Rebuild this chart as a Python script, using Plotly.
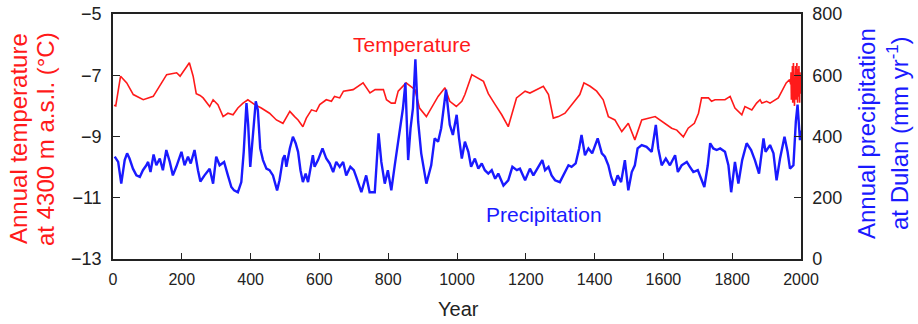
import plotly.graph_objects as go

# ---------------- data ----------------
temp_years = [3, 8, 22, 40, 59, 88, 117, 142, 156, 185, 195, 222, 233, 242, 253, 262, 281, 291, 305, 320,
              334, 349, 363, 378, 392, 412, 431, 455, 475, 494, 514, 528, 538, 552, 562, 577, 591, 601, 620, 635,
              644, 659, 670, 698, 727, 747, 762, 786, 795, 809, 820, 829, 852, 878, 891, 911, 930, 945, 965, 979,
              998, 1014, 1023, 1043, 1077, 1091, 1111, 1130, 1149, 1164, 1173, 1198, 1212, 1251, 1266, 1280, 1295, 1314, 1329, 1343,
              1357, 1369, 1387, 1406, 1425, 1440, 1459, 1479, 1498, 1517, 1537, 1576, 1595, 1624, 1639, 1658, 1672, 1690, 1702, 1711,
              1731, 1740, 1750, 1779, 1794, 1808, 1828, 1837, 1857, 1871, 1881, 1886, 1900, 1910, 1934, 1957, 1967,
              1970, 1971, 1972, 1973, 1974, 1975, 1976, 1977, 1978, 1979, 1980, 1981, 1982, 1983, 1984, 1985,
              1986, 1987, 1988, 1989, 1990, 1991, 1992, 1993, 1994, 1995, 1996, 1997, 1998, 1999, 2000]
temp_vals = [-7.98, -8.0, -7.03, -7.25, -7.63, -7.8, -7.69, -7.25, -6.98, -6.92, -7.03, -6.59, -7.03, -7.6, -7.66, -7.74, -8.02, -7.8, -7.96, -8.35,
             -8.24, -8.29, -8.07, -7.91, -7.8, -7.96, -8.07, -8.24, -8.46, -8.57, -8.18, -8.35, -8.46, -8.68, -8.4, -8.13, -8.18, -7.96, -7.8, -7.85,
             -7.69, -7.74, -7.52, -7.47, -7.25, -7.58, -7.47, -7.47, -7.8, -7.91, -7.91, -7.52, -7.25, -7.47, -8.07, -8.35, -7.96, -7.69, -7.41, -7.85,
             -8.02, -7.85, -7.63, -6.98, -7.2, -7.6, -7.96, -8.29, -8.68, -8.07, -7.74, -7.52, -7.58, -7.36, -7.63, -8.4, -8.35, -8.24, -8.02, -7.8,
             -7.63, -7.25, -7.36, -7.52, -7.8, -8.35, -8.46, -8.84, -8.57, -9.11, -8.46, -8.35, -8.51, -8.73, -8.79, -9.01, -8.73, -8.57, -8.24, -7.74,
             -7.74, -7.85, -7.8, -7.8, -7.69, -8.07, -8.29, -8.02, -8.13, -7.91, -7.8, -7.91, -7.85, -7.91, -7.74, -7.25, -7.14,
             -7.3, -6.9, -7.8, -7.0, -7.6, -6.7, -7.9, -7.2, -6.6, -7.7, -7.1, -8.0, -6.9, -7.5, -6.7, -7.8,
             -7.0, -7.6, -6.6, -7.4, -7.9, -6.8, -7.3, -7.7, -6.7, -7.2, -7.9, -6.9, -7.5, -7.0, -7.6]

prec_years = [5, 15, 24, 34, 41, 48, 58, 68, 78, 87, 97, 102, 109, 118, 126, 136, 145, 155, 165, 174,
              184, 199, 208, 218, 226, 237, 247, 254, 266, 281, 291, 300, 310, 323, 334, 344, 352, 363, 373, 380,
              388, 393, 399, 405, 415, 421, 428, 436, 446, 455, 465, 477, 484, 494, 499, 504, 514, 523, 531, 538,
              545, 552, 560, 567, 577, 581, 586, 596, 609, 620, 630, 640, 649, 659, 669, 678, 690, 700, 707, 722,
              736, 746, 761, 772, 780, 790, 799, 809, 819, 829, 835, 843, 850, 858, 865, 872, 879, 887, 896, 911,
              925, 935, 945, 954, 968, 979, 988, 999, 1006, 1014, 1023, 1033, 1041, 1052, 1062, 1072, 1081, 1091, 1101, 1111,
              1120, 1135, 1149, 1161, 1174, 1183, 1198, 1212, 1222, 1237, 1248, 1256, 1266, 1275, 1285, 1299, 1314, 1324, 1333, 1345,
              1355, 1362, 1372, 1382, 1393, 1409, 1421, 1430, 1440, 1448, 1457, 1467, 1477, 1488, 1498, 1508, 1517, 1525, 1537, 1551,
              1566, 1578, 1585, 1595, 1607, 1619, 1634, 1642, 1653, 1668, 1677, 1687, 1700, 1709, 1719, 1729, 1736, 1745, 1755, 1765,
              1779, 1789, 1797, 1808, 1818, 1829, 1842, 1855, 1866, 1878, 1891, 1897, 1910, 1920, 1929, 1939, 1952, 1961, 1968, 1978,
              1985, 1990, 1997, 2000]
prec_vals = [334, 317, 246, 323, 345, 328, 295, 273, 268, 290, 306, 317, 284, 341, 306, 328, 290, 356, 317, 273,
             301, 350, 306, 334, 312, 356, 290, 253, 273, 295, 246, 334, 306, 317, 273, 235, 224, 218, 251, 350,
             509, 438, 301, 383, 515, 487, 361, 323, 295, 290, 273, 224, 257, 328, 339, 301, 361, 399, 378, 350,
             290, 251, 279, 251, 317, 339, 301, 323, 361, 328, 312, 284, 317, 301, 317, 273, 301, 290, 268, 218,
             273, 218, 218, 410, 317, 246, 290, 224, 306, 383, 438, 493, 575, 323, 427, 493, 652, 449, 345, 246,
             306, 394, 383, 427, 553, 438, 405, 471, 394, 328, 383, 350, 301, 328, 295, 312, 290, 279, 290, 262,
             279, 240, 257, 301, 290, 295, 257, 295, 273, 301, 323, 290, 301, 273, 257, 251, 284, 306, 301, 312,
             361, 405, 339, 361, 345, 394, 345, 334, 306, 268, 240, 273, 251, 323, 224, 284, 306, 361, 372, 366,
             350, 438, 361, 306, 328, 306, 339, 284, 306, 317, 301, 284, 290, 262, 235, 306, 378, 361, 356, 361,
             350, 306, 218, 317, 246, 323, 378, 356, 323, 279, 394, 350, 372, 345, 257, 328, 399, 350, 295, 306,
             449, 504, 388, 420]

x_ticks = [0, 200, 400, 600, 800, 1000, 1200, 1400, 1600, 1800, 2000]
t_ticks = [-13, -11, -9, -7, -5]
p_ticks = [0, 200, 400, 600, 800]

RED = "#ff1a1a"
BLUE = "#1a1aff"
DARK = "#222"
FONT = "Liberation Sans, Arial, sans-serif"

fig = go.Figure()
fig.add_trace(go.Scatter(x=prec_years, y=prec_vals, mode="lines", yaxis="y2",
                         line=dict(color=BLUE, width=2.4), showlegend=False))
fig.add_trace(go.Scatter(x=temp_years, y=temp_vals, mode="lines", yaxis="y",
                         line=dict(color=RED, width=1.6), showlegend=False))

fig.update_layout(
    width=918, height=324,
    margin=dict(l=113, r=117, t=14, b=65, autoexpand=False),
    paper_bgcolor="white", plot_bgcolor="white",
    xaxis=dict(range=[0, 2000], tickvals=x_ticks, ticks="inside", ticklen=6, tickwidth=1.3,
               tickcolor=DARK, showline=True, linecolor=DARK, linewidth=1.5, mirror=True,
               showgrid=False, zeroline=False, ticklabelstandoff=5, automargin=False,
               tickfont=dict(family=FONT, size=16, color=DARK)),
    yaxis=dict(range=[-13, -5], tickvals=t_ticks, ticks="inside", ticklen=7, tickwidth=1.3,
               tickcolor=DARK, showline=True, linecolor=DARK, linewidth=1.5,
               showgrid=False, zeroline=False, ticklabelstandoff=6, automargin=False,
               tickfont=dict(family=FONT, size=18, color=DARK)),
    yaxis2=dict(range=[0, 800], tickvals=p_ticks, ticks="inside", ticklen=7, tickwidth=1.3,
                tickcolor=DARK, showline=True, linecolor=DARK, linewidth=1.5,
                overlaying="y", side="right", showgrid=False, zeroline=False, ticklabelstandoff=6,
                automargin=False, tickfont=dict(family=FONT, size=18, color=DARK)),
)

# annotation placement in pixels, converted to paper coordinates
W, H = 918, 324
l, r, t, b = 113, 117, 14, 65
pw, ph = W - l - r, H - t - b

def pp(px, py):
    return (px - l) / pw, 1 - (py - t) / ph

ann_specs = [
    ("Annual temperature", 18, 139, -90, 24, RED),
    ("at 4300 m a.s.l. (°C)", 45, 139, -90, 24, RED),
    ("Annual precipitation", 866, 134, -90, 24, BLUE),
    ("at Dulan (mm yr<sup>-1</sup>)", 898, 133, -90, 24, BLUE),
    ("Temperature", 412, 45, 0, 21, RED),
    ("Precipitation", 544, 214, 0, 21, BLUE),
    ("Year", 458, 309, 0, 20, DARK),
]
anns = []
for text, px, py, ang, size, col in ann_specs:
    x, y = pp(px, py)
    anns.append(dict(text=text, x=x, y=y, xref="paper", yref="paper", showarrow=False,
                     xanchor="center", yanchor="middle", textangle=ang,
                     font=dict(family=FONT, size=size, color=col)))
fig.update_layout(annotations=anns)

fig.write_html("out.html")
